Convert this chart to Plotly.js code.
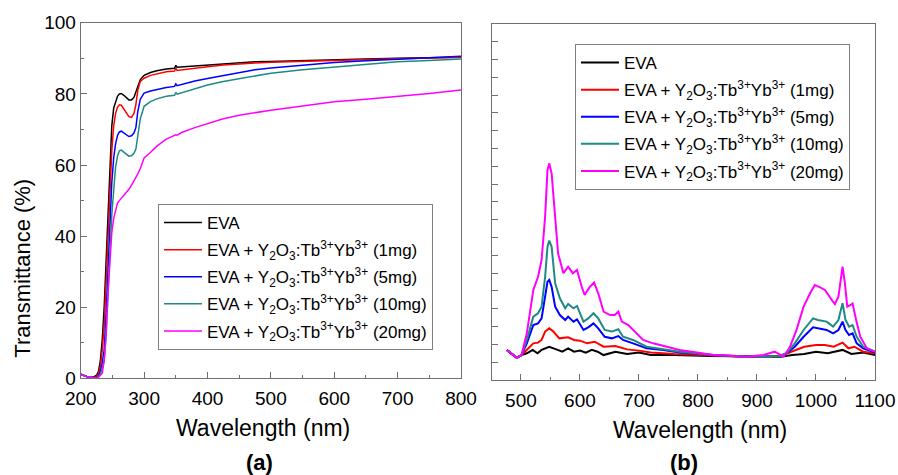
<!DOCTYPE html>
<html>
<head>
<meta charset="utf-8">
<script src="https://cdn.plot.ly/plotly-3.0.1.min.js"></script>
<style>html,body{margin:0;padding:0;background:#fff;}#chart{width:898px;height:475px;}</style>
</head>
<body>
<div id="chart"></div>
<script>
// ---------- Panel (a): transmittance ----------
const wlA = [200,205,210,215,220,225,228,231,234,237,240,243,246,249,252,255,258,261,264,268,272,276,280,284,287,290,294,300,310,320,335,348,350,352,360,380,400,425,450,475,500,550,600,650,700,750,800];
const tEVA  = [1.2,0.8,0.5,0.3,0.4,0.9,2,5,11,20,32,45,58,71,76,78,79.3,80,80.1,79.6,78.8,78.3,78.3,79,80.5,82.3,84,85.2,86,86.5,87,87.2,88,87.5,87.6,87.9,88.2,88.5,88.8,89,89.1,89.4,89.6,89.8,90,90.2,90.3];
const t1mg  = [1.2,0.8,0.5,0.3,0.3,0.6,1.4,3.5,8,15,27,40,53,64,71,74.5,76.2,76.9,76.8,75.8,74.5,73.6,73.4,74.5,77,81,83.5,84.4,85.2,85.6,86.2,86.4,87.2,86.6,86.8,87.2,87.6,88.1,88.5,88.7,88.9,89.2,89.5,89.7,89.9,90.1,90.3];
const t5mg  = [1.2,0.8,0.5,0.3,0.2,0.3,0.7,2,4.5,8,18,30,44,55,62,66,68.3,69.3,69.5,69,68.3,68,68.2,69,70.5,75,78.5,80.2,80.8,81.2,81.8,82.1,82.8,82.3,82.7,83.6,84.3,85.2,86.1,86.8,87.3,88.1,88.8,89.3,89.8,90.2,90.6];
const t10mg = [1.2,0.8,0.5,0.3,0.2,0.2,0.5,1.2,2.8,5,12,22,35,46,54,59.5,62.5,64,64.2,63.6,62.9,62.5,62.6,63.3,64.5,68,73,76.5,77.8,78.6,79.3,79.6,80.4,79.9,80.3,81.5,82.5,83.5,84.3,85.1,85.8,86.8,87.6,88.3,89,89.4,89.8];
const t20mg = [1.2,0.8,0.5,0.3,0.2,0.2,0.3,0.8,1.5,5,12,24,34,41,45,47.5,49.3,50,50.6,51.3,52.2,53.2,54.3,55.5,56.5,57.5,59,62,63.5,65.3,67.3,68.3,68.5,68.4,69.2,70.5,71.7,73,74,74.8,75.4,76.6,77.8,78.5,79.2,80.1,81.1];

// ---------- Panel (b): emission (arb. units) ----------
const wlB_EVA = [476,493,501,510,520,528,535,548,560,570,580,590,600,610,620,630,640,660,680,700,720,760,820,880,940,960,980,1000,1020,1045,1060,1080,1100];
const eEVA    = [1.69,1.25,1.40,1.5,1.69,1.5,1.69,1.87,1.72,1.59,1.78,1.59,1.65,1.54,1.69,1.59,1.40,1.59,1.46,1.54,1.40,1.40,1.35,1.31,1.31,1.40,1.46,1.59,1.5,1.69,1.46,1.54,1.40];
const wlB_1mg = [476,493,501,510,521,529,535,541,548,555,565,580,590,600,612,625,640,660,680,700,720,760,820,880,940,960,980,1000,1015,1030,1045,1055,1065,1080,1100];
const e1mg    = [1.69,1.25,1.40,1.69,2.06,2.1,2.25,2.72,2.9,2.72,2.34,2.4,2.25,2.21,2.06,2.15,1.87,1.91,1.72,1.65,1.54,1.46,1.39,1.31,1.35,1.59,1.87,1.97,1.97,1.87,2.1,1.78,1.87,1.59,1.5];
const wlB_mid = [476,493,501,510,521,529,535,541,545,548,552,558,566,575,580,589,595,606,614,623,631,642,654,665,673,690,713,741,769,826,882,939,950,964,979,995,1003,1018,1029,1038,1045,1050,1056,1062,1069,1080,1100];
const e5mg    = [1.69,1.25,1.40,2.06,3.09,3.18,3.46,4.87,5.52,5.62,5.24,4.12,3.65,3.37,3.56,3.28,3.41,2.81,2.96,3.18,2.9,2.43,2.34,2.47,2.25,2.06,1.78,1.69,1.54,1.40,1.31,1.35,1.5,1.87,2.43,2.96,2.9,2.81,2.62,2.81,3.28,2.81,2.53,2.62,2.06,1.78,1.54];
const e10mg   = [1.69,1.25,1.40,2.25,3.56,3.75,4.12,5.8,7.49,7.83,7.49,5.43,4.59,4.03,4.27,4.03,4.16,3.28,3.46,3.75,3.46,2.81,2.72,2.85,2.43,2.25,1.87,1.72,1.59,1.40,1.31,1.35,1.5,2.06,2.81,3.46,3.37,3.28,3.0,3.37,4.31,3.37,3.0,3.09,2.43,1.87,1.59];
const wlB_20mg = [476,493,501,510,521,529,535,541,545,548,552,558,563,572,580,588,595,603,608,617,624,631,640,651,659,665,671,682,693,707,724,747,769,798,826,854,882,911,930,945,956,967,979,990,998,1007,1015,1027,1032,1038,1042,1045,1049,1053,1058,1062,1068,1075,1086,1100];
const e20mg    = [1.69,1.25,1.40,2.62,5.06,5.8,6.74,9.18,11.8,12.17,11.6,9.36,7.1,6.0,6.37,6.0,6.18,5.24,4.78,5.24,5.47,4.87,3.84,3.65,3.65,3.84,3.28,3.09,2.72,2.25,2.06,1.87,1.69,1.54,1.40,1.37,1.31,1.40,1.59,1.31,1.87,2.81,4.12,4.87,5.34,5.2,5.06,4.49,4.27,4.68,5.8,6.37,5.43,4.12,4.2,4.3,3.37,2.43,1.78,1.59];

const seriesNames = [
  'EVA',
  'EVA + Y<sub>2</sub>O<sub>3</sub>:Tb<sup>3+</sup>Yb<sup>3+</sup> (1mg)',
  'EVA + Y<sub>2</sub>O<sub>3</sub>:Tb<sup>3+</sup>Yb<sup>3+</sup> (5mg)',
  'EVA + Y<sub>2</sub>O<sub>3</sub>:Tb<sup>3+</sup>Yb<sup>3+</sup> (10mg)',
  'EVA + Y<sub>2</sub>O<sub>3</sub>:Tb<sup>3+</sup>Yb<sup>3+</sup> (20mg)'
];
const colors = ['#000000','#ff0000','#0000ff','#1f8a82','#ff00ff'];

const aY = [tEVA,t1mg,t5mg,t10mg,t20mg];
const bX = [wlB_EVA,wlB_1mg,wlB_mid,wlB_mid,wlB_20mg];
const bY = [eEVA,e1mg,e5mg,e10mg,e20mg];

const traces = [];
aY.forEach((y,i)=>traces.push({
  x: wlA, y: y, type:'scatter', mode:'lines', name: seriesNames[i], legendgroup:'a'+i,
  line:{color:colors[i], width:1.5}, xaxis:'x', yaxis:'y', legend:'legend'
}));
bY.forEach((y,i)=>traces.push({
  x: bX[i], y: y, type:'scatter', mode:'lines', name: seriesNames[i], legendgroup:'b'+i,
  line:{color:colors[i], width:2}, xaxis:'x2', yaxis:'y2', legend:'legend2'
}));

const FONT = 'Arial, "Liberation Sans", sans-serif';
const axBase = {
  showline:true, mirror:true, linecolor:'#707070', linewidth:1,
  showgrid:false, zeroline:false, ticks:'inside', ticklen:6, tickcolor:'#707070',
  tickfont:{size:19, color:'#000', family:FONT}
};
const legBase = {
  xanchor:'left', yanchor:'top', bgcolor:'#ffffff', bordercolor:'#808080', borderwidth:1,
  font:{size:17, color:'#000', family:FONT}, traceorder:'grouped', tracegroupgap:2, itemwidth:38
};

const layout = {
  width:898, height:475,
  margin:{l:0,r:0,t:0,b:0},
  paper_bgcolor:'#fff', plot_bgcolor:'#fff',
  font:{family:FONT, color:'#000'},
  xaxis: Object.assign({}, axBase, {domain:[0.0899,0.5134], range:[200,800], dtick:100, tick0:200,
    ticklabelstandoff:3,
    minor:{dtick:50, ticks:'inside', ticklen:3, tickcolor:'#707070'}, anchor:'y'}),
  yaxis: Object.assign({}, axBase, {domain:[0.2032,0.9522], range:[0,100], dtick:20,
    minor:{dtick:10, ticks:'inside', ticklen:3, tickcolor:'#707070'}, anchor:'x'}),
  xaxis2: Object.assign({}, axBase, {domain:[0.5479,0.9744], range:[451,1100], dtick:100, tick0:500,
    ticklabelstandoff:3,
    minor:{dtick:50, ticks:'inside', ticklen:3, tickcolor:'#707070'}, anchor:'y2'}),
  yaxis2: Object.assign({}, axBase, {domain:[0.2,0.9495], range:[0,20], dtick:1, showticklabels:false, anchor:'x2'}),
  legend: Object.assign({}, legBase, {x:0.1759, y:(475-204)/475}),
  legend2: Object.assign({}, legBase, {x:0.6403, y:(475-44)/475}),
  showlegend:true,
  annotations:[
    {text:'Wavelength (nm)', xref:'paper', yref:'paper', x:263/898, y:(475-428)/475, showarrow:false,
      xanchor:'center', yanchor:'middle', font:{size:23, family:FONT, color:'#000'}},
    {text:'Wavelength (nm)', xref:'paper', yref:'paper', x:700/898, y:(475-430)/475, showarrow:false,
      xanchor:'center', yanchor:'middle', font:{size:23, family:FONT, color:'#000'}},
    {text:'<b>(a)</b>', xref:'paper', yref:'paper', x:259/898, y:(475-462)/475, showarrow:false,
      xanchor:'center', yanchor:'middle', font:{size:22, family:FONT, color:'#000'}},
    {text:'<b>(b)</b>', xref:'paper', yref:'paper', x:684/898, y:(475-462)/475, showarrow:false,
      xanchor:'center', yanchor:'middle', font:{size:22, family:FONT, color:'#000'}},
    {text:'Transmittance (%)', xref:'paper', yref:'paper', x:21.7/898, y:(475-268)/475, showarrow:false,
      textangle:-90, xanchor:'center', yanchor:'middle', font:{size:22, family:FONT, color:'#000'}}
  ]
};

Plotly.newPlot('chart', traces, layout, {staticPlot:true, displayModeBar:false});
</script>
</body>
</html>
